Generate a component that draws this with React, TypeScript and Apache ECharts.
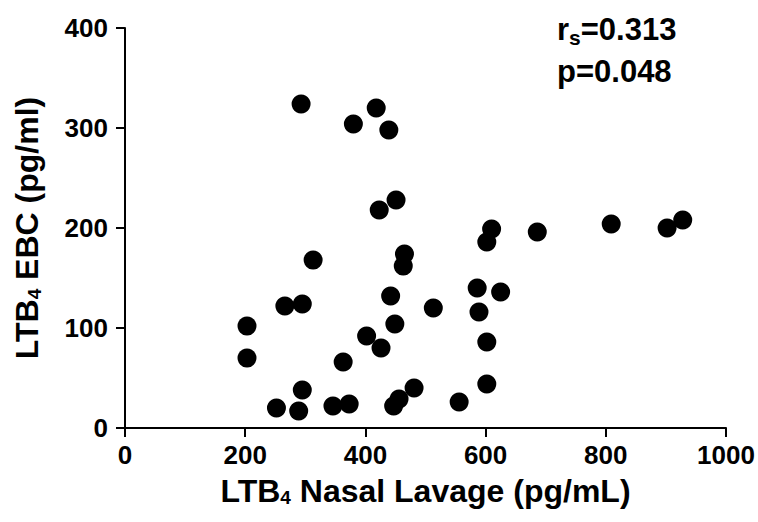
import React, { useEffect, useRef } from "react";
import * as echarts from "echarts";

const nasalLavage = [293, 418, 380, 439, 451, 423, 313, 266, 295, 203, 203, 363, 402, 426, 442, 449, 295, 252, 289, 346, 373, 447, 456, 465, 463, 513, 586, 589, 625, 602, 602, 481, 556, 610, 602, 686, 809, 902, 928];
const ebc = [324, 320, 304, 298, 228, 218, 168, 122, 124, 102, 70, 66, 92, 80, 132, 104, 38, 20, 17, 22, 24, 22, 29, 174, 162, 120, 140, 116, 136, 86, 44, 40, 26, 199, 186, 196, 204, 200, 208];

const xTitle = "LTB{sub|4} Nasal Lavage (pg/mL)";
const yTitle = "LTB{sub|4} EBC (pg/ml)";
const statLines = ["{a|r}{s|s}{a|=0.313}", "{a|p=0.048}"];

const FONT = "'Liberation Sans', Arial, sans-serif";

export default function App() {
  const ref = useRef<HTMLDivElement>(null);
  useEffect(() => {
    if (!ref.current) return;
    const chart = echarts.init(ref.current, undefined, { renderer: "svg" });
    const data = nasalLavage.map((x, i) => [x, ebc[i]]);
    const titleStyle = {
      color: "#000",
      fontSize: 32,
      fontWeight: "bold" as const,
      fontFamily: FONT,
      lineHeight: 36,
      rich: {
        sub: { fontSize: 19, fontWeight: "bold" as const, fontFamily: FONT, color: "#000", padding: [14, 0, 0, 0] },
      },
    };
    const axisCommon = {
      axisLine: { show: true, lineStyle: { color: "#000", width: 2 } },
      axisTick: { show: true, length: 9, lineStyle: { color: "#000", width: 2 } },
      splitLine: { show: false },
    };
    const labelStyle = { color: "#000", fontSize: 26, fontWeight: "bold" as const, fontFamily: FONT };
    chart.setOption({
      animation: false,
      backgroundColor: "#fff",
      title: {
        text: statLines.join("\n"),
        left: 557,
        top: 8,
        padding: 0,
        textStyle: {
          rich: {
            a: { fontSize: 31, fontWeight: "bold", fontFamily: FONT, color: "#000", lineHeight: 42 },
            s: { fontSize: 21, fontWeight: "bold", fontFamily: FONT, color: "#000", padding: [16, 0, 0, 0] },
          },
        },
      },
      grid: { left: 125, right: 32, top: 28, bottom: 94 },
      xAxis: {
        type: "value",
        min: 0,
        max: 1000,
        interval: 200,
        ...axisCommon,
        axisLabel: { ...labelStyle, margin: 14, formatter: (v: number) => String(v) },
        name: xTitle,
        nameLocation: "middle",
        nameGap: 44,
        nameTextStyle: titleStyle,
      },
      yAxis: {
        type: "value",
        min: 0,
        max: 400,
        interval: 100,
        ...axisCommon,
        axisLabel: { ...labelStyle, margin: 17, formatter: (v: number) => String(v) },
        name: yTitle,
        nameLocation: "middle",
        nameRotate: 90,
        nameGap: 80,
        nameTextStyle: titleStyle,
      },
      series: [
        {
          type: "scatter",
          data,
          symbol: "circle",
          symbolSize: 19,
          itemStyle: { color: "#000", opacity: 1 },
        },
      ],
    });
    return () => chart.dispose();
  }, []);
  return (
    <div
      ref={ref}
      style={{ position: "fixed", left: 0, top: 0, width: 758, height: 522, background: "#fff" }}
    />
  );
}
